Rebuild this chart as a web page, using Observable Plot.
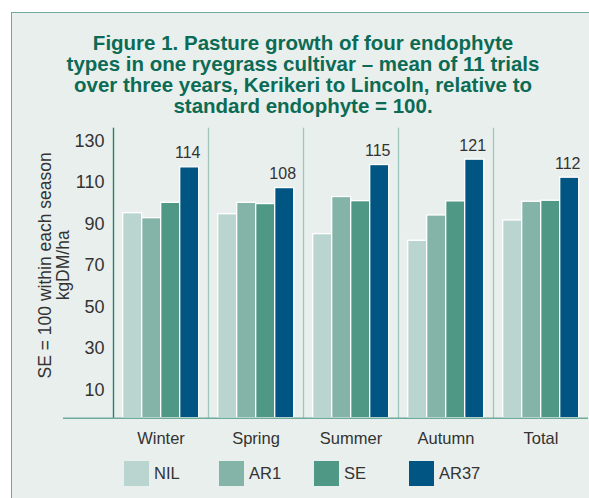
<!DOCTYPE html>
<html>
<head>
<meta charset="utf-8">
<script src="https://cdn.jsdelivr.net/npm/d3@7"></script>
<script src="https://cdn.jsdelivr.net/npm/@observablehq/plot@0.6"></script>
<style>
  body { margin: 0; background: #fff; font-family: "Liberation Sans", Arial, Helvetica, sans-serif; }
  #page { position: relative; width: 589px; height: 498px; overflow: hidden; background: #fff; }
  #panel { position: absolute; left: 11px; top: 12px; width: 620px; height: 520px; background: #e9efed; border: 1px solid #6fab9c; box-sizing: border-box; }
  #title { position: absolute; left: 11px; width: 584px; top: 32px; text-align: center; font-weight: bold; font-size: 20.5px; line-height: 21px; color: #0c6b55; }
  #chart { position: absolute; left: 0; top: 120px; }
  #legend { position: absolute; left: 124px; top: 461px; display: flex; }
  .item { width: 95px; display: flex; align-items: center; font-size: 16.5px; color: #333; }
  .sw { width: 25px; height: 25px; margin-right: 5px; }
</style>
</head>
<body>
<div id="page">
  <div id="panel"></div>
  <div id="title"></div>
  <div id="chart"></div>
  <div id="legend"></div>
</div>
<script>
// ---- data ----
const titleLines = [
  "Figure 1. Pasture growth of four endophyte",
  "types in one ryegrass cultivar – mean of 11 trials",
  "over three years, Kerikeri to Lincoln, relative to",
  "standard endophyte = 100."
];
const yTitle = "SE = 100 within each season\nkgDM/ha";
const seasons = ["Winter", "Spring", "Summer", "Autumn", "Total"];
const endophytes = ["NIL", "AR1", "SE", "AR37"];
const nilValues  = [95.2, 94.7, 85.1, 81.9, 91.7];
const ar1Values  = [92.8, 100.2, 103.0, 94.1, 100.7];
const seValues   = [100.2, 99.6, 101.0, 100.9, 101.2];
const ar37Values = [117.3, 107.3, 118.4, 121.0, 112.3];
const ar37Labels = ["114", "108", "115", "121", "112"];
const yTickLabels = [10, 30, 50, 70, 90, 110, 130];
const colors = ["#bad4cf", "#84b3a8", "#4f9886", "#015582"];

// ---- build tables ----
const series = [nilValues, ar1Values, seValues, ar37Values];
const rows = [];
seasons.forEach((s, i) => endophytes.forEach((e, j) => rows.push({season: s, endophyte: e, value: series[j][i]})));
const labelRows = seasons.map((s, i) => ({season: s, endophyte: "AR37", value: ar37Values[i], label: ar37Labels[i]}));

document.getElementById("title").innerHTML = titleLines.join("<br>");

const yMin = -3.57, yMax = 136.0;
const sepColor = "#9dc7bd", axisColor = "#2c7d6b", baseColor = "#6fab9c";

const chart = Plot.plot({
  width: 589, height: 330,
  marginLeft: 112.3, marginRight: 1, marginTop: 8, marginBottom: 32.3,
  style: {fontFamily: '"Liberation Sans", Arial, Helvetica, sans-serif', fontSize: "16px", color: "#333", background: "transparent", overflow: "visible"},
  fx: {domain: seasons, padding: 0, label: null},
  x: {domain: endophytes, paddingInner: 0, paddingOuter: 0.45, axis: null},
  y: {domain: [yMin, yMax], label: null},
  color: {domain: endophytes, range: colors},
  marks: [
    Plot.frame({anchor: "left", stroke: sepColor, strokeWidth: 1.3}),
    Plot.frame({anchor: "left", stroke: axisColor, strokeWidth: 1.3, facetAnchor: "left"}),
    Plot.barY(rows, {fx: "season", x: "endophyte", y1: yMin, y2: "value", fill: "endophyte", stroke: "white", strokeWidth: 1.3}),
    Plot.ruleY([yMin], {stroke: baseColor, strokeWidth: 1.6}),
    Plot.axisY({ticks: [yMin], tickSize: 50, tickFormat: () => "", label: null, stroke: baseColor, strokeWidth: 1.6}),
    Plot.axisY({ticks: yTickLabels, tickSize: 0, tickPadding: 9, fontSize: 18, label: null, fill: "#333"}),
    Plot.axisFx({anchor: "bottom", tickSize: 0, tickPadding: 14, fontSize: 16.5, label: null, fill: "#333"}),
    Plot.text(labelRows, {fx: "season", x: "endophyte", y: "value", text: "label", dy: -14, dx: -2, fontSize: 16, fill: "#333"}),
    Plot.text([{season: seasons[0], t: yTitle}], {fx: "season", text: "t", frameAnchor: "left", textAnchor: "middle", rotate: -90, dx: -59.6, dy: -8, fontSize: 17.5, lineHeight: 1.07, fill: "#333"})
  ]
});
document.getElementById("chart").appendChild(chart);

const legend = document.getElementById("legend");
endophytes.forEach((e, j) => {
  const item = document.createElement("div");
  item.className = "item";
  item.innerHTML = `<div class="sw" style="background:${colors[j]}"></div><span>${e}</span>`;
  legend.appendChild(item);
});
</script>
</body>
</html>
